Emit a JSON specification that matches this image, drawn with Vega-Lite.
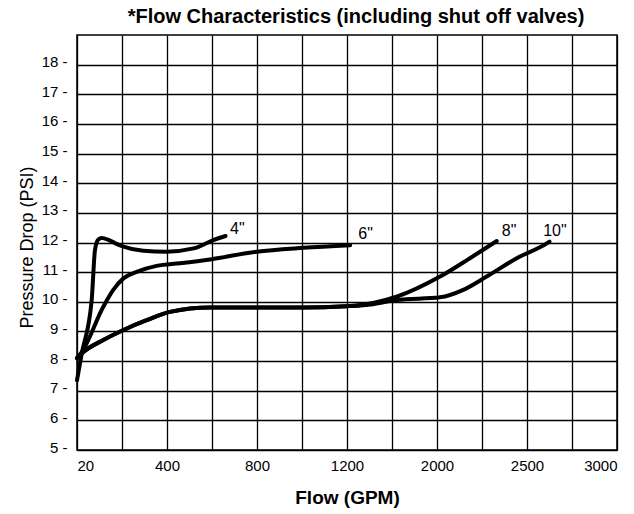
{
  "$schema": "https://vega.github.io/schema/vega-lite/v6.json",
  "width": 540,
  "height": 415,
  "autosize": "none",
  "padding": {"left": 77, "top": 35, "right": 17, "bottom": 64},
  "background": "white",
  "config": {
    "view": {"stroke": "black", "strokeWidth": 1.5},
    "font": "Liberation Sans"
  },
  "title": {
    "text": "*Flow Characteristics (including shut off valves)",
    "fontSize": 20,
    "fontWeight": "bold",
    "font": "Liberation Sans",
    "color": "black",
    "anchor": "middle",
    "offset": 8,
    "dx": 9
  },
  "datasets": {
    "curves": [
      {"size": "4\"", "flow": 20, "psi": 7.35},
      {"size": "4\"", "flow": 40, "psi": 8.25},
      {"size": "4\"", "flow": 82, "psi": 10.06},
      {"size": "4\"", "flow": 96, "psi": 11.75},
      {"size": "4\"", "flow": 110, "psi": 12.1},
      {"size": "4\"", "flow": 124, "psi": 12.15},
      {"size": "4\"", "flow": 150, "psi": 12.1},
      {"size": "4\"", "flow": 180, "psi": 11.98},
      {"size": "4\"", "flow": 216, "psi": 11.86},
      {"size": "4\"", "flow": 300, "psi": 11.72},
      {"size": "4\"", "flow": 398, "psi": 11.69},
      {"size": "4\"", "flow": 518, "psi": 11.8},
      {"size": "4\"", "flow": 606, "psi": 12.08},
      {"size": "4\"", "flow": 660, "psi": 12.22},
      {"size": "6\"", "flow": 20, "psi": 8.1},
      {"size": "6\"", "flow": 40, "psi": 8.3},
      {"size": "6\"", "flow": 131, "psi": 9.83},
      {"size": "6\"", "flow": 173, "psi": 10.4},
      {"size": "6\"", "flow": 216, "psi": 10.79},
      {"size": "6\"", "flow": 272, "psi": 11.01},
      {"size": "6\"", "flow": 356, "psi": 11.21},
      {"size": "6\"", "flow": 458, "psi": 11.3},
      {"size": "6\"", "flow": 592, "psi": 11.43},
      {"size": "6\"", "flow": 798, "psi": 11.69},
      {"size": "6\"", "flow": 1006, "psi": 11.82},
      {"size": "6\"", "flow": 1228, "psi": 11.91},
      {"size": "8\"", "flow": 20, "psi": 8.1},
      {"size": "8\"", "flow": 40, "psi": 8.26},
      {"size": "8\"", "flow": 131, "psi": 8.71},
      {"size": "8\"", "flow": 216, "psi": 9.05},
      {"size": "8\"", "flow": 314, "psi": 9.38},
      {"size": "8\"", "flow": 413, "psi": 9.66},
      {"size": "8\"", "flow": 592, "psi": 9.81},
      {"size": "8\"", "flow": 813, "psi": 9.81},
      {"size": "8\"", "flow": 1006, "psi": 9.81},
      {"size": "8\"", "flow": 1198, "psi": 9.85},
      {"size": "8\"", "flow": 1300, "psi": 9.88},
      {"size": "8\"", "flow": 1432, "psi": 9.96},
      {"size": "8\"", "flow": 1641, "psi": 10.17},
      {"size": "8\"", "flow": 2017, "psi": 10.85},
      {"size": "8\"", "flow": 2183, "psi": 11.47},
      {"size": "8\"", "flow": 2332, "psi": 12.05},
      {"size": "10\"", "flow": 20, "psi": 8.1},
      {"size": "10\"", "flow": 40, "psi": 8.26},
      {"size": "10\"", "flow": 131, "psi": 8.71},
      {"size": "10\"", "flow": 216, "psi": 9.05},
      {"size": "10\"", "flow": 314, "psi": 9.38},
      {"size": "10\"", "flow": 413, "psi": 9.66},
      {"size": "10\"", "flow": 592, "psi": 9.81},
      {"size": "10\"", "flow": 813, "psi": 9.81},
      {"size": "10\"", "flow": 1006, "psi": 9.81},
      {"size": "10\"", "flow": 1198, "psi": 9.85},
      {"size": "10\"", "flow": 1300, "psi": 9.87},
      {"size": "10\"", "flow": 1432, "psi": 9.92},
      {"size": "10\"", "flow": 1641, "psi": 10.06},
      {"size": "10\"", "flow": 2017, "psi": 10.15},
      {"size": "10\"", "flow": 2146, "psi": 10.4},
      {"size": "10\"", "flow": 2276, "psi": 10.85},
      {"size": "10\"", "flow": 2443, "psi": 11.47},
      {"size": "10\"", "flow": 2610, "psi": 11.97},
      {"size": "10\"", "flow": 2625, "psi": 12.03}
    ],
    "labels": [
      {"label": "4\"", "flow": 680, "psi": 12.46},
      {"label": "6\"", "flow": 1300, "psi": 12.29},
      {"label": "8\"", "flow": 2360, "psi": 12.39},
      {"label": "10\"", "flow": 2590, "psi": 12.39}
    ]
  },
  "encoding": {
    "x": {
      "field": "flow",
      "type": "quantitative",
      "scale": {"type": "linear", "domain": [20, 400, 1200, 2000, 3000], "range": [0, 90, 270, 360, 540], "nice": false, "zero": false},
      "axis": {
        "values": [20, 210, 400, 600, 800, 1000, 1200, 1600, 2000, 2250, 2500, 2750, 3000],
        "format": "d",
        "labelExpr": "indexof([20, 400, 800, 1200, 2000, 2500, 3000], datum.value) >= 0 ? datum.label : ''",
        "grid": true,
        "gridColor": "black",
        "gridWidth": 1.3,
        "gridOpacity": 1,
        "domain": false,
        "ticks": false,
        "tickSize": 0,
        "labelFontSize": 15,
        "labelColor": "black",
        "labelPadding": 8,
        "labelFlush": true,
        "labelOverlap": false,
        "title": "Flow (GPM)",
        "titleFontSize": 19,
        "titleFontWeight": "bold",
        "titleColor": "black",
        "titleX": 270,
        "titleY": 38,
        "titleAlign": "center",
        "titleBaseline": "top"
      }
    },
    "y": {
      "field": "psi",
      "type": "quantitative",
      "scale": {"type": "linear", "domain": [5, 19], "nice": false, "zero": false},
      "axis": {
        "values": [5, 6, 7, 8, 9, 10, 11, 12, 13, 14, 15, 16, 17, 18],
        "labelExpr": "datum.label + '  -'",
        "grid": true,
        "gridColor": "black",
        "gridWidth": 1.3,
        "gridOpacity": 1,
        "domain": false,
        "ticks": false,
        "tickSize": 0,
        "labelFontSize": 15,
        "labelColor": "black",
        "labelPadding": 10,
        "labelOffset": -3,
        "labelOverlap": false,
        "title": "Pressure Drop (PSI)",
        "titleFontSize": 18,
        "titleFontWeight": "normal",
        "titleColor": "black",
        "titleX": -50,
        "titleY": 212,
        "titleAlign": "center",
        "titleBaseline": "middle"
      }
    }
  },
  "layer": [
    {
      "data": {"name": "curves"},
      "mark": {"type": "line", "interpolate": "monotone", "color": "black", "strokeWidth": 4, "strokeCap": "round"},
      "encoding": {
        "detail": {"field": "size"}
      }
    },
    {
      "data": {"name": "labels"},
      "mark": {"type": "text", "align": "left", "baseline": "middle", "fontSize": 16, "color": "black"},
      "encoding": {
        "text": {"field": "label"}
      }
    }
  ]
}
